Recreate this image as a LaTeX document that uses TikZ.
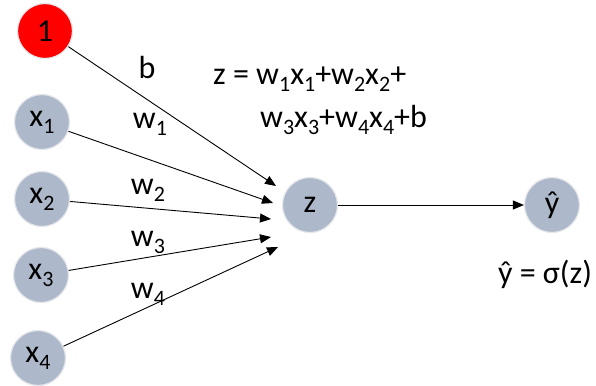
\documentclass[tikz,border=0pt]{standalone}
\usepackage{fontspec}
\setmainfont{Carlito}
\usetikzlibrary{arrows.meta}
\definecolor{nodegray}{HTML}{ADB9CA}
\definecolor{rim}{HTML}{E4E6EA}
\newcommand{\sbs}[1]{\raisebox{-0.22em}{\fontsize{22}{24}\selectfont #1}}
\begin{document}
\begin{tikzpicture}[x=1pt,y=-1pt,
  neuron/.style={circle,fill=nodegray,draw=rim,line width=1.2pt,minimum size=55pt,inner sep=0pt,font=\fontsize{32}{34}\selectfont},
  bias/.style={neuron,fill=red},
  lab/.style={font=\fontsize{32}{34}\selectfont,inner sep=0pt},
  conn/.style={line width=0.9pt,-{Triangle[length=11pt,width=9pt]}},
  wire/.style={line width=0.9pt}]
\useasboundingbox (0,0) rectangle (596,385);
\node[bias] (one) at (45,31) {1};
\node[neuron] (x1) at (42,122) {x\sbs{1}};
\node[neuron] (x2) at (42,199) {x\sbs{2}};
\node[neuron] (x3) at (41,275) {x\sbs{3}};
\node[neuron] (x4) at (38,358) {x\sbs{4}};
\node[neuron] (z) at (310,205) {z};
\node[neuron] (yh) at (552,205) {ŷ};
\coordinate (t0) at (276,186);
\coordinate (t1) at (273,203);
\coordinate (t2) at (271,219);
\coordinate (t3) at (271,237);
\coordinate (t4) at (278,247);
\draw[conn] (one) -- (t0);
\draw[conn] (x1) -- (t1);
\draw[conn] (x2) -- (t2);
\draw[conn] (x3) -- (t3);
\draw[conn] (x4) -- (t4);
\draw[conn] (z) -- (yh);
\node[lab] (lb) at (147,68) {b};
\node[lab] (lw1) at (150,124) {w\sbs{1}};
\node[lab] (lw2) at (148,190) {w\sbs{2}};
\node[lab] (lw3) at (148,242) {w\sbs{3}};
\node[lab] (lw4) at (148,294) {w\sbs{4}};
\node[lab,anchor=west] (eq1) at (213,79) {z = w\sbs{1}x\sbs{1}+w\sbs{2}x\sbs{2}+};
\node[lab,anchor=west] (eq2) at (260,120) {w\sbs{3}x\sbs{3}+w\sbs{4}x\sbs{4}+b};
\node[lab] (sig) at (545,274) {ŷ = σ(z)};
\end{tikzpicture}
\end{document}
